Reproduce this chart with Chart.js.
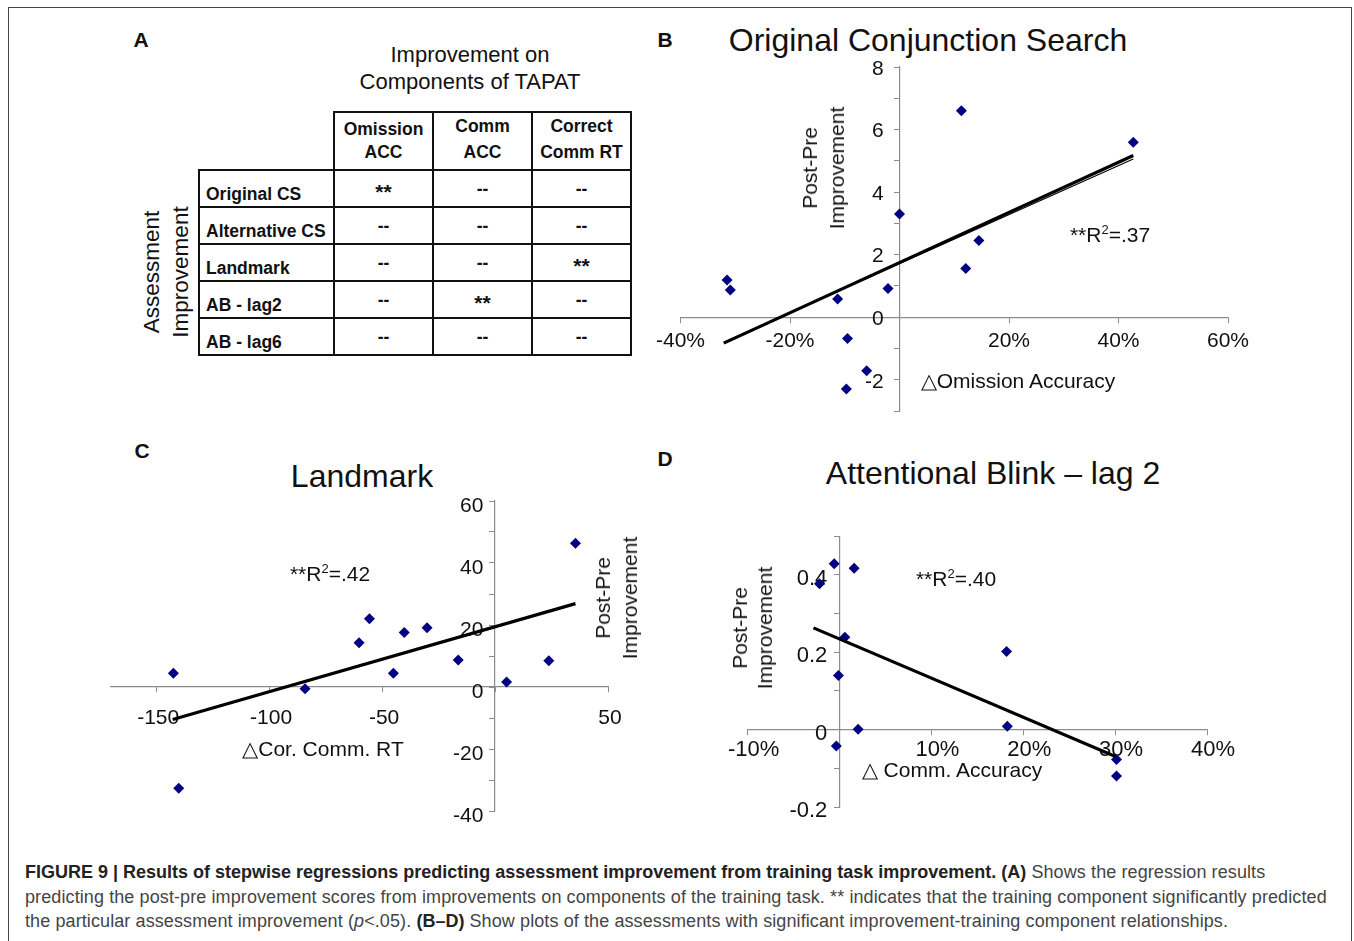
<!DOCTYPE html>
<html>
<head>
<meta charset="utf-8">
<script src="https://cdn.jsdelivr.net/npm/chart.js@4.4.0/dist/chart.umd.min.js"></script>
<style>
  body { margin: 0; width: 1354px; height: 941px; position: relative; overflow: hidden; background: #fff;
         font-family: "Liberation Sans", Arial, Helvetica, sans-serif; color: #111; }
  .frame { position: absolute; left: 8px; top: 7px; width: 1344px; height: 980px; border: 1.5px solid #444; box-sizing: border-box; }
  .abs { position: absolute; white-space: nowrap; }
  .c { transform: translate(-50%, -50%); }
  .rot { transform: translate(-50%, -50%) rotate(-90deg); text-align: center; }
  .letter { font-weight: bold; font-size: 21px; }
  .title { font-size: 32px; }
  .lbl { font-size: 21px; }
  sup { font-size: 13px; vertical-align: 8px; line-height: 0; }
  #tapat { position: absolute; left: 198px; top: 111px; border-collapse: collapse; table-layout: fixed;
           font-weight: bold; font-size: 17.5px; }
  #tapat td { border: 2px solid #111; padding: 0; }
  #tapat td.corner { border-top: none; border-left: none; }
  #tapat td.head { text-align: center; vertical-align: bottom; }
  #tapat td.row { text-align: left; padding-left: 6px; vertical-align: bottom; padding-bottom: 2px; line-height: 20px; }
  #tapat td.cell { text-align: center; vertical-align: middle; line-height: 20px; }
  #tapat .star { font-size: 21px; position: relative; top: 4px; line-height: 20px; }
  .caption { position: absolute; left: 25px; top: 860px; font-size: 18px; line-height: 24.5px; color: #444;
             white-space: nowrap; letter-spacing: 0.1px; }
  .caption b { color: #222; letter-spacing: 0; }
</style>
</head>
<body>
<div class="frame"></div>

<!-- panel A -->
<div class="abs c letter" style="left:141px; top:40px;">A</div>
<div class="abs c" style="left:470px; top:68px; font-size:22px; line-height:27px; text-align:center;">Improvement on<br>Components of TAPAT</div>
<div class="abs rot" style="left:166px; top:272px; font-size:22.5px; line-height:29px;">Assessment<br>Improvement</div>
<table id="tapat"></table>

<!-- panel B -->
<div class="abs c letter" style="left:665px; top:40px;">B</div>
<div class="abs c title" style="left:928px; top:40px;">Original Conjunction Search</div>
<div class="abs" style="left:650px; top:50px; width:610px; height:380px;"><canvas id="chartB" width="610" height="380"></canvas></div>
<div class="abs rot lbl" style="left:823px; top:168px; line-height:27px;">Post-Pre<br>Improvement</div>
<div class="abs c lbl" style="left:1018px; top:381px;">△Omission Accuracy</div>
<div class="abs c lbl" style="left:1110px; top:235px;">**R<sup>2</sup>=.37</div>

<!-- panel C -->
<div class="abs c letter" style="left:142px; top:451px;">C</div>
<div class="abs c title" style="left:362px; top:476px;">Landmark</div>
<div class="abs" style="left:90px; top:480px; width:560px; height:355px;"><canvas id="chartC" width="560" height="355"></canvas></div>
<div class="abs rot lbl" style="left:616px; top:598px; line-height:27px;">Post-Pre<br>Improvement</div>
<div class="abs c lbl" style="left:323px; top:749px;">△Cor. Comm. RT</div>
<div class="abs c lbl" style="left:330px; top:574px;">**R<sup>2</sup>=.42</div>

<!-- panel D -->
<div class="abs c letter" style="left:665px; top:459px;">D</div>
<div class="abs c title" style="left:993px; top:473px;">Attentional Blink – lag 2</div>
<div class="abs" style="left:720px; top:520px; width:530px; height:310px;"><canvas id="chartD" width="530" height="310"></canvas></div>
<div class="abs rot lbl" style="left:752px; top:628px; line-height:25px;">Post-Pre<br>Improvement</div>
<div class="abs c lbl" style="left:952px; top:770px;">△ Comm. Accuracy</div>
<div class="abs c lbl" style="left:956px; top:579px;">**R<sup>2</sup>=.40</div>

<div class="caption">
<b>FIGURE 9 | Results of stepwise regressions predicting assessment improvement from training task improvement. (A)</b> Shows the regression results<br>
predicting the post-pre improvement scores from improvements on components of the training task. ** indicates that the training component significantly predicted<br>
the particular assessment improvement (<i>p</i>&lt;.05). <b>(B–D)</b> Show plots of the assessments with significant improvement-training component relationships.
</div>

<script>
// table A
const tapatComponents = [['Omission', 'ACC'], ['Comm', 'ACC'], ['Correct', 'Comm RT']];
const assessments = ['Original CS', 'Alternative CS', 'Landmark', 'AB - lag2', 'AB - lag6'];
const significant = [[1, 0, 0], [0, 0, 0], [0, 0, 1], [0, 1, 0], [0, 0, 0]];

// B: original conjunction search vs omission accuracy (%)
const omissionAccB = [-31.5, -30.9, -11.3, -9.5, -9.7, -6.0, -2.1, 0.0, 11.3, 12.1, 14.5, 42.7];
const improvementB = [1.19, 0.87, 0.58, -0.68, -2.30, -1.71, 0.92, 3.30, 6.60, 1.56, 2.45, 5.59];
const trendBx = [-32.1, 42.7];
const trendBy = [-0.83, 5.17];
const trendB2y = [-0.80, 5.06];

// C: landmark vs correct comm RT
const corCommRtC = [-142.4, -140.0, -84.1, -60.2, -55.6, -45.0, -40.2, -30.1, -16.3, 5.1, 23.8, 35.6];
const improvementC = [4.4, -32.7, -0.6, 14.3, 22.0, 4.4, 17.6, 19.1, 8.7, 1.6, 8.5, 46.4];
const trendCx = [-142.7, 35.6];
const trendCy = [-10.5, 26.9];
const xTicksC = [-150, -100, -50, 0, 50];

// D: attentional blink lag 2 vs comm accuracy (%)
const commAccD = [-2.18, -0.58, 1.59, 0.58, -0.12, 2.02, -0.35, 18.18, 18.26, 30.15, 30.15];
const improvementD = [0.377, 0.429, 0.417, 0.239, 0.140, 0.001, -0.042, 0.202, 0.009, -0.077, -0.120];
const trendDx = [-2.84, 30.1];
const trendDy = [0.263, -0.070];

const NAVY = '#000080';
const AXIS = '#8c8c8c';

// build table
const headLineHeight = [23, 26, 26];
const tbl = document.getElementById('tapat');
let html = '<colgroup><col style="width:135px"><col style="width:99px"><col style="width:99px"><col style="width:99px"></colgroup>';
html += '<tr style="height:58px"><td class="corner"></td>' +
  tapatComponents.map((c, i) => {
    const lh = headLineHeight[i];
    return `<td class="head" style="line-height:${lh}px; padding-bottom:${17 - lh / 2}px">${c[0]}<br>${c[1]}</td>`;
  }).join('') + '</tr>';
assessments.forEach((a, i) => {
  html += `<tr style="height:37px"><td class="row">${a}</td>` +
    significant[i].map(s => `<td class="cell">${s ? '<span class="star">**</span>' : '--'}</td>`).join('') + '</tr>';
});
tbl.innerHTML = html;

function toPoints(xs, ys) {
  return xs.map((x, i) => ({ x: x, y: ys[i] }));
}

function makeScatter(id, xs, ys, trends, cfg) {
  const datasets = trends.map(t => ({
    data: toPoints(t.x, t.y),
    showLine: true,
    borderColor: '#000',
    borderWidth: t.w,
    pointRadius: 0
  }));
  datasets.push({
    data: toPoints(xs, ys),
    pointStyle: 'rectRot',
    pointRadius: 5.5,
    backgroundColor: NAVY,
    borderColor: NAVY,
    borderWidth: 0
  });

  new Chart(document.getElementById(id), {
    type: 'scatter',
    data: { datasets },
    options: {
      responsive: false,
      animation: false,
      events: [],
      layout: { padding: cfg.pad },
      plugins: { legend: { display: false }, tooltip: { enabled: false } },
      scales: {
        x: {
          type: 'linear',
          min: cfg.xMin,
          max: cfg.xMax,
          position: { y: 0 },
          afterFit: s => { s.height = 0; },
          afterBuildTicks: cfg.xTicks ? s => { s.ticks = cfg.xTicks.map(v => ({ value: v })); } : undefined,
          grid: { drawOnChartArea: false, drawTicks: true, tickLength: 5, color: AXIS },
          border: { color: AXIS, width: 1.2 },
          ticks: {
            stepSize: cfg.xStep,
            autoSkip: false,
            maxRotation: 0,
            padding: cfg.xPad,
            labelOffset: cfg.xShift,
            color: '#111',
            font: { family: 'Liberation Sans, Arial', size: cfg.font },
            callback: v => v === 0 ? '' : v + cfg.xUnit
          }
        },
        y: {
          type: 'linear',
          min: cfg.yMin,
          max: cfg.yMax,
          position: { x: 0 },
          afterFit: s => { s.width = 0; },
          grid: { drawOnChartArea: false, drawTicks: true, tickLength: 5, color: AXIS },
          border: { color: AXIS, width: 1.2 },
          ticks: {
            stepSize: cfg.yStep,
            autoSkip: false,
            labelOffset: cfg.yShift,
            color: '#111',
            font: { family: 'Liberation Sans, Arial', size: cfg.font },
            // labels sit right-aligned on the axis line, so trailing spaces make the gap
            callback: v => {
              const s = cfg.yLabel(v);
              return s === '' ? '' : s + cfg.yGap;
            }
          }
        }
      }
    }
  });
}

makeScatter('chartB', omissionAccB, improvementB,
  [{ x: trendBx, y: trendBy, w: 3.2 }, { x: trendBx, y: trendB2y, w: 1.2 }],
  {
    pad: { left: 30, right: 32, top: 17, bottom: 19 },
    xMin: -40, xMax: 60, xStep: 20, xUnit: '%', xPad: 6, xShift: 0,
    yMin: -3, yMax: 8, yStep: 1, font: 21, yShift: 2, yGap: '  \u2009',
    yLabel: v => (v % 2 === 0 ? String(v) : '')
  });

makeScatter('chartC', corCommRtC, improvementC,
  [{ x: trendCx, y: trendCy, w: 3.2 }],
  {
    pad: { left: 21, right: 42, top: 21, bottom: 24 },
    xMin: -170, xMax: 50, xStep: 50, xTicks: xTicksC, xUnit: '', xPad: 14, xShift: 2,
    yMin: -40, yMax: 60, yStep: 10, font: 21, yShift: 5, yGap: '  ',
    yLabel: v => (v % 20 === 0 ? String(v) : '')
  });

makeScatter('chartD', commAccD, improvementD,
  [{ x: trendDx, y: trendDy, w: 3.2 }],
  {
    pad: { left: 27, right: 43, top: 11, bottom: 23 },
    xMin: -10, xMax: 40, xStep: 10, xUnit: '%', xPad: 2, xShift: 6,
    yMin: -0.2, yMax: 0.5, yStep: 0.1, font: 22, yShift: 4, yGap: '  ',
    yLabel: v => {
      const k = Math.round(v * 10);
      if (k % 2 !== 0) return '';
      return k === 0 ? '0' : (k / 10).toFixed(1);
    }
  });
</script>
</body>
</html>
